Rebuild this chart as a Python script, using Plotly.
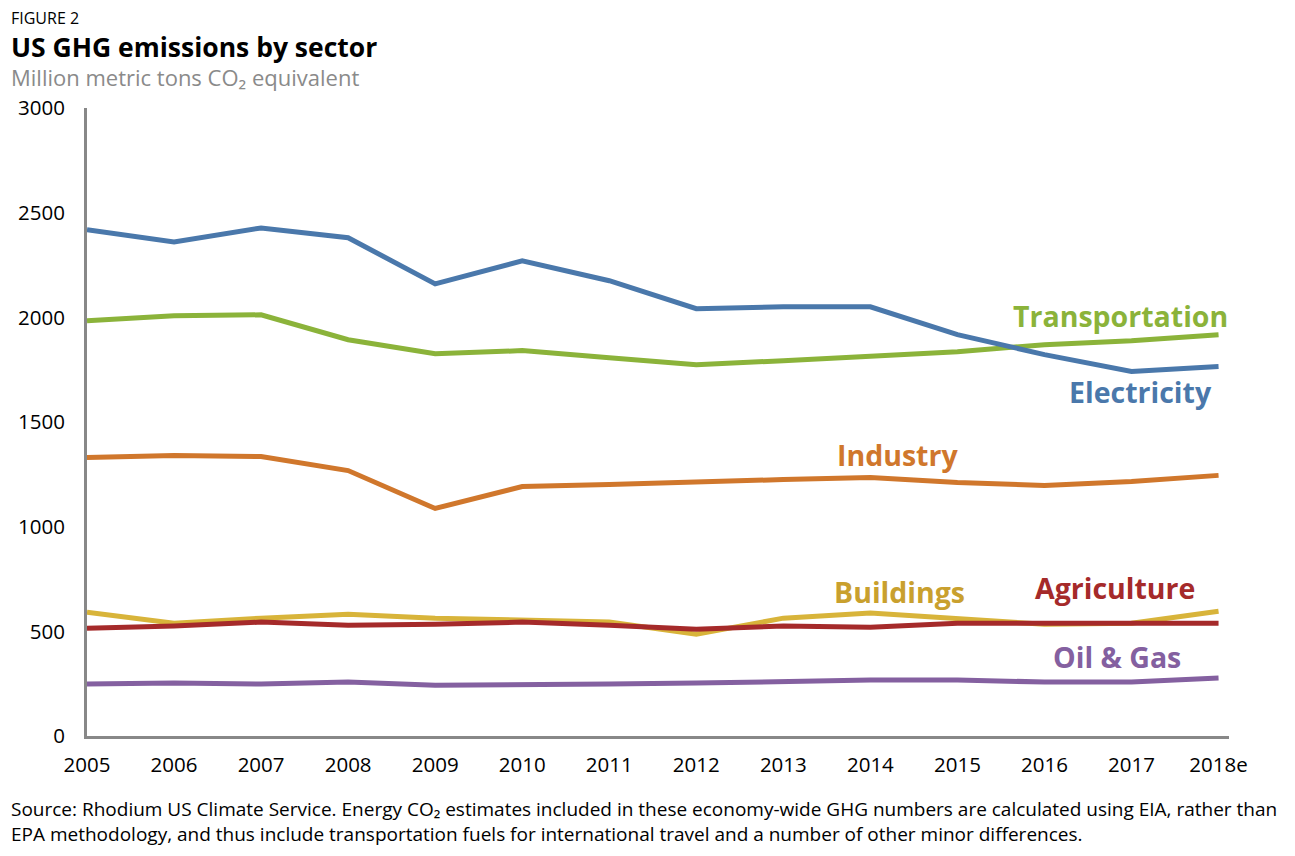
import plotly.graph_objects as go

years = ["2005", "2006", "2007", "2008", "2009", "2010", "2011", "2012", "2013", "2014", "2015", "2016", "2017", "2018e"]
electricity = [2418, 2360, 2427, 2380, 2160, 2270, 2175, 2041, 2050, 2050, 1917, 1822, 1741, 1765]
transportation = [1984, 2008, 2012, 1893, 1826, 1841, 1807, 1774, 1793, 1812, 1836, 1869, 1888, 1917]
industry = [1330, 1340, 1335, 1268, 1087, 1192, 1202, 1211, 1225, 1235, 1211, 1197, 1216, 1245]
buildings = [591, 539, 563, 582, 563, 553, 544, 486, 563, 587, 558, 534, 539, 596]
agriculture = [515, 525, 544, 529, 534, 544, 529, 510, 525, 520, 539, 539, 539, 539]
oil_gas = [248, 253, 248, 258, 243, 243, 248, 253, 262, 267, 267, 258, 258, 277]
y_ticks = [0, 500, 1000, 1500, 2000, 2500, 3000]

series = [
    ("Buildings", buildings, "#d8b43a"),
    ("Agriculture", agriculture, "#a52a2a"),
    ("Oil & Gas", oil_gas, "#8460a0"),
    ("Industry", industry, "#d0772c"),
    ("Transportation", transportation, "#8bb33a"),
    ("Electricity", electricity, "#4a78ab"),
]

FONT = "Open Sans"
xs = list(range(len(years)))
fig = go.Figure()
for name, vals, col in series:
    fig.add_trace(go.Scatter(x=xs, y=vals, mode="lines", name=name,
                             line=dict(color=col, width=5), showlegend=False, cliponaxis=False))

labels = [
    ("Transportation", 11.87, 2007, "#8bb33a"),
    ("Electricity", 12.10, 1644, "#4a78ab"),
    ("Industry", 9.31, 1343, "#d0772c"),
    ("Buildings", 9.34, 688, "#c9a02e"),
    ("Agriculture", 11.81, 707, "#a52a2a"),
    ("Oil & Gas", 11.83, 377, "#8460a0"),
]
for txt, x, y, col in labels:
    fig.add_annotation(x=x, y=y, text="<b>" + txt + "</b>", showarrow=False,
                       font=dict(family=FONT, size=28.5, color=col),
                       xanchor="center", yanchor="middle")

x0 = -78/1142
fig.add_annotation(xref="paper", yref="paper", x=x0, y=1 + (108-18)/628, text="FIGURE 2",
                   showarrow=False, xanchor="left", yanchor="middle",
                   font=dict(family=FONT, size=16, color="#000"))
fig.add_annotation(xref="paper", yref="paper", x=x0, y=1 + (108-47)/628,
                   text="<b>US GHG emissions by sector</b>",
                   showarrow=False, xanchor="left", yanchor="middle",
                   font=dict(family=FONT, size=26.5, color="#000"))
fig.add_annotation(xref="paper", yref="paper", x=x0, y=1 + (108-77)/628,
                   text="Million metric tons CO₂ equivalent",
                   showarrow=False, xanchor="left", yanchor="middle",
                   font=dict(family=FONT, size=22, color="#8a8a8a"))
fig.add_annotation(xref="paper", yref="paper", x=x0, y=-(821-736)/628,
                   text="Source: Rhodium US Climate Service. Energy CO₂ estimates included in these economy-wide GHG numbers are calculated using EIA, rather than<br>EPA methodology, and thus include transportation fuels for international travel and a number of other minor differences.",
                   showarrow=False, xanchor="left", yanchor="middle", align="left",
                   font=dict(family=FONT, size=19, color="#000"))

fig.update_layout(
    width=1295, height=856,
    margin=dict(l=87, r=66, t=108, b=120),
    paper_bgcolor="white", plot_bgcolor="white",
    font=dict(family=FONT, color="#000"),
    xaxis=dict(range=[0, 13.12], tickmode="array", tickvals=xs, ticktext=years,
               showgrid=False, zeroline=False, showline=True, linecolor="#888888", linewidth=3,
               ticks="", tickfont=dict(size=20.5), ticklabelstandoff=8),
    yaxis=dict(range=[0, 3000], tickmode="array", tickvals=y_ticks, ticktext=[str(v) for v in y_ticks],
               showgrid=False, zeroline=False, showline=True, linecolor="#888888", linewidth=3,
               ticks="", tickfont=dict(size=20.5), ticklabelstandoff=15),
)

fig.write_html("out.html")
